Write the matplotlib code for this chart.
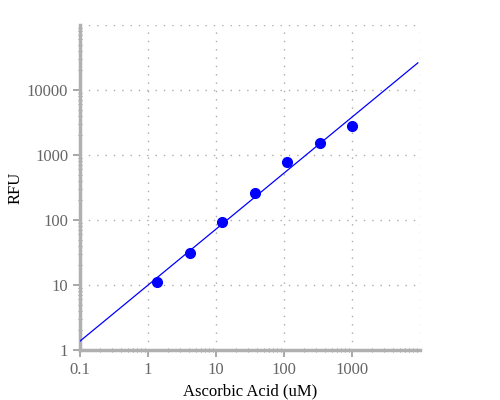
import numpy as np
import matplotlib
matplotlib.use("Agg")
from matplotlib import pyplot as plt
from matplotlib.ticker import LogLocator, NullFormatter, FixedLocator, FixedFormatter

# Standard curve data
conc = [1.37, 4.12, 12.3, 37.0, 111, 333, 1000]
rfu = [11.1, 31, 93, 260, 790, 1520, 2790]

x_ticks = [0.1, 1, 10, 100, 1000]
x_labels = ["0.1", "1", "10", "100", "1000"]
y_ticks = [1, 10, 100, 1000, 10000]
y_labels = ["1", "10", "100", "1000", "10000"]

# power law fit in log space
slope, icpt = np.polyfit(np.log10(conc), np.log10(rfu), 1)
xfit = np.logspace(-1, np.log10(9300), 50)
yfit = 10 ** (icpt + slope * np.log10(xfit))

plt.rcParams["font.family"] = ["Liberation Serif", "DejaVu Serif"]
fig = plt.figure(figsize=(5, 4), dpi=100)
ax = fig.add_axes([0.16, 0.125, 0.68, 0.8125])

ax.plot(xfit, yfit, color="blue", lw=0.9, zorder=3)
ax.plot(conc, rfu, "o", color="blue", ms=7, zorder=4)

ax.set_xscale("log")
ax.set_yscale("log")
ax.set_xlim(0.1, 10000)
ax.set_ylim(1, 100000)

grid_col = "#aaaaaa"
for v in [1, 10, 100, 1000, 10000]:
    ax.axvline(v, color=grid_col, lw=1, ls=(0, (1, 5)), zorder=1)
for v in [10, 100, 1000, 10000, 100000]:
    ax.axhline(v, color=grid_col, lw=1, ls=(0, (1, 5)), zorder=1)

ax.xaxis.set_major_locator(FixedLocator(x_ticks))
ax.xaxis.set_major_formatter(FixedFormatter(x_labels))
ax.yaxis.set_major_locator(FixedLocator(y_ticks))
ax.yaxis.set_major_formatter(FixedFormatter(y_labels))
ax.xaxis.set_minor_locator(LogLocator(base=10, subs=np.arange(2, 10)))
ax.yaxis.set_minor_locator(LogLocator(base=10, subs=np.arange(2, 10)))
ax.xaxis.set_minor_formatter(NullFormatter())
ax.yaxis.set_minor_formatter(NullFormatter())

for s in ["top", "right"]:
    ax.spines[s].set_visible(False)
for s in ["left", "bottom"]:
    ax.spines[s].set_color("#b0b0b0")
    ax.spines[s].set_linewidth(2.5)

ax.tick_params(which="major", length=5, width=1.2, color="#999999",
               labelcolor="#666666", labelsize=12, direction="out")
ax.tick_params(which="minor", length=2.5, width=0.7, color="#8c8c8c",
               direction="inout")

ax.set_xlabel("Ascorbic Acid (uM)", fontsize=12, labelpad=4)
ax.set_ylabel("RFU", fontsize=12)
ax.yaxis.set_label_coords(-0.165, 0.5)

fig.savefig("out.png", dpi=100)
